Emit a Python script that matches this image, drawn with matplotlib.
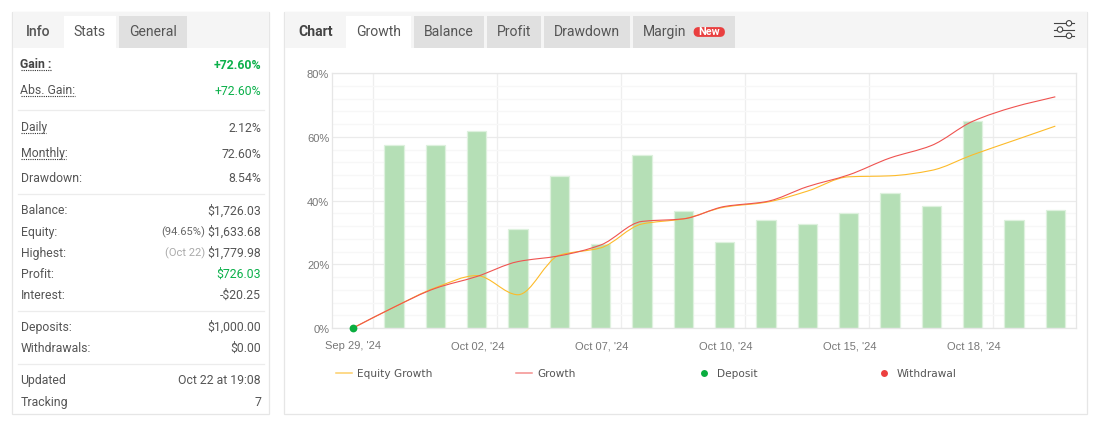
import numpy as np
import matplotlib
matplotlib.use('Agg')
import matplotlib.pyplot as plt
from matplotlib.path import Path
from matplotlib.patches import PathPatch, Rectangle, FancyBboxPatch, Circle
from matplotlib.transforms import ScaledTranslation

plt.rcParams['font.family'] = ['Roboto', 'DejaVu Sans']

# chart data
dates = ["Sep 29, '24", "Sep 30, '24", "Oct 01, '24", "Oct 02, '24", "Oct 03, '24", "Oct 04, '24",
         "Oct 07, '24", "Oct 08, '24", "Oct 09, '24", "Oct 10, '24", "Oct 11, '24", "Oct 14, '24",
         "Oct 15, '24", "Oct 16, '24", "Oct 17, '24", "Oct 18, '24", "Oct 21, '24", "Oct 22, '24"]
growth = [0, 6.6, 12.5, 16.2, 20.9, 22.7, 26.1, 33.5, 34.3, 38.2, 39.7, 44.4, 48.1, 53.4, 57.3, 64.9, 69.4, 72.6]
equity = [0, 6.6, 12.7, 16.5, 10.5, 22.9, 25.2, 32.7, 34.3, 38.0, 39.5, 43.0, 47.5, 47.8, 49.5, 54.4, 58.9, 63.4]
bars = [57.6, 57.6, 61.8, 31.2, 47.8, 26.5, 54.4, 36.8, 27.0, 33.8, 32.8, 36.0, 42.5, 38.4, 64.9, 33.8, 37.0]
y_ticks = [0, 20, 40, 60, 80]

# stats panel
label_text = ['Daily', 'Monthly:', 'Drawdown:', 'Balance:', 'Equity:', 'Highest:', 'Profit:', 'Interest:',
              'Deposits:', 'Withdrawals:', 'Updated', 'Tracking']
label_y = [127, 153, 178.5, 211, 232.5, 253.5, 274.5, 295.5, 327.5, 348.5, 380.5, 402.5]
value_text = ['2.12%', '72.60%', '8.54%', '$1,726.03', '$1,633.68', '$1,779.98', '$726.03', '-$20.25',
              '$1,000.00', '$0.00', 'Oct 22 at 19:08', '7']
value_y = [128.5, 155, 179, 211, 232.5, 253.5, 274.5, 295.5, 327.5, 348.5, 380.5, 402.5]

W, H = 1101, 424
GREEN = '#0bb04a'
TEXT = '#555555'
fig = plt.figure(figsize=(W / 100, H / 100), dpi=100)

# page layer in pixel coordinates
ui = fig.add_axes([0, 0, 1, 1])
ui.set_xlim(0, W)
ui.set_ylim(H, 0)
ui.axis('off')


def box(x0, y0, x1, y1, fc, ec='none', lw=0):
    ui.add_patch(Rectangle((x0, y0), x1 - x0, y1 - y0, fc=fc, ec=ec, lw=lw))


def tab(x, y, s, color='#555555', weight='normal', size=10.1):
    ui.text(x, y, s, ha='center', va='center', color=color, fontweight=weight, fontsize=size)


for x0, x1 in [(12, 269), (284, 1087)]:
    box(x0, 11.5, x1, 414, 'white', '#e6e6e6', 0.9)
    box(x0 + 0.5, 12, x1 - 0.5, 48, '#f5f5f5')

# left tabs
box(64, 16, 116, 48, 'white')
box(119, 16, 187, 48, '#e0e0e0')
tab(38.5, 32, 'Info', '#555555', 'medium')
tab(90, 32, 'Stats')
tab(153, 32, 'General')

# right tabs
box(346, 16, 411, 48, 'white')
for x0, x1 in [(414, 484), (487, 541), (544, 630), (633, 735)]:
    box(x0, 16, x1, 48, '#e0e0e0')
tab(316, 32, 'Chart', '#444444', 'bold')
tab(379, 32, 'Growth')
tab(449, 32, 'Balance')
tab(514, 32, 'Profit')
tab(587, 32, 'Drawdown')
tab(665, 32, 'Margin')
ui.add_patch(FancyBboxPatch((695, 28.5), 28.5, 7, boxstyle='round,pad=0,rounding_size=3.5',
                            fc='#e93f3f', ec='#e93f3f', lw=2))
ui.text(709.5, 32, 'New', ha='center', va='center', color='white', fontsize=7.8, fontweight='bold')

# settings icon
for y, cx in [(23.3, 1069), (29.5, 1060), (35.7, 1069)]:
    ui.plot([1054.3, 1074.3], [y, y], color='#444444', lw=0.8)
    ui.add_patch(Circle((cx, y), 2.7, fc='white', ec='#444444', lw=0.8, zorder=3))

# stats rows
for x1, y in [(51, 70.4), (75, 96.4), (46, 133.4), (66, 159.4)]:
    ui.plot([21, x1], [y, y], color='#333333', lw=0.8, ls=(0, (1, 1)))
ui.text(20.5, 64, 'Gain :', va='center', color='#444444', fontsize=8.8, fontweight='bold')
ui.text(20.5, 90, 'Abs. Gain:', va='center', color=TEXT, fontsize=8.8)
ui.text(261, 65.5, '+72.60%', ha='right', va='center', color=GREEN, fontsize=8.8, fontweight='bold')
ui.text(261, 91.5, '+72.60%', ha='right', va='center', color=GREEN, fontsize=8.8)
for s, y in zip(label_text, label_y):
    ui.text(20.5, y, s, va='center', color=TEXT, fontsize=8.8)
for s, y in zip(value_text, value_y):
    ui.text(261, y, s, ha='right', va='center', color=GREEN if s == '$726.03' else TEXT, fontsize=8.8)
ui.text(205.5, 232.5, '(94.65%)', ha='right', va='center', color='#666666', fontsize=8)
ui.text(205.5, 253.5, '(Oct 22)', ha='right', va='center', color='#aaaaaa', fontsize=8)
for y in [110, 194, 311, 364]:
    ui.plot([18, 264], [y, y], color='#ececec', lw=0.9)

# legend
ui.plot([336, 352], [373, 373], color='#fdcf6a', lw=1.1)
ui.plot([516, 532], [373, 373], color='#f4908e', lw=1.1)
ui.plot([704], [373], 'o', color='#0aad3f', ms=5, mew=0)
ui.plot([884], [373], 'o', color='#ec3f3f', ms=5, mew=0)
for x, s in [(357, 'Equity Growth'), (537, 'Growth'), (717, 'Deposit'), (897, 'Withdrawal')]:
    ui.text(x, 374, s, va='center', color='#555555', fontsize=7.6, family='DejaVu Sans')

# chart
L, R, T, B = 332, 1076, 73.2, 328.2
ax = fig.add_axes([L / W, 1 - B / H, (R - L) / W, (B - T) / H])
ax.patch.set_alpha(0)
ax.set_xlim(-0.5, 17.5)
ax.set_ylim(0, 80)
x = np.arange(len(dates))
ax.bar(x[1:], bars, width=0.475, color='#b5dfb6', edgecolor='#def1de', linewidth=0.9, zorder=2)


def smooth(values, color):
    # monotone cubic segments through the daily values
    v = np.asarray(values, float)
    d = np.diff(v)
    m = np.zeros(len(v))
    m[0], m[-1] = d[0], d[-1]
    same = d[:-1] * d[1:] > 0
    m[1:-1][same] = 2 * d[:-1][same] * d[1:][same] / (d[:-1][same] + d[1:][same])
    verts = [(x[0], v[0])]
    codes = [Path.MOVETO]
    for i in range(len(v) - 1):
        verts += [(x[i] + 1 / 3, v[i] + m[i] / 3), (x[i + 1] - 1 / 3, v[i + 1] - m[i + 1] / 3), (x[i + 1], v[i + 1])]
        codes += [Path.CURVE4] * 3
    ax.add_patch(PathPatch(Path(verts, codes), fill=False, ec=color, lw=0.8, zorder=3))


smooth(equity, '#fdbb2a')
smooth(growth, '#ef5350')
ax.plot(x[0], growth[0], 'o', color='#0aad3f', ms=5.6, mew=0, zorder=4, clip_on=False)

ax.set_xticks(x[::3])
ax.set_xticklabels(dates[::3])
ax.set_xticks(x[::3] + 0.5, minor=True)
ax.set_yticks(y_ticks)
ax.set_yticklabels([f'{v}%' for v in y_ticks])
ax.set_yticks(np.arange(0, 81, 4), minor=True)
ax.grid(which='minor', axis='x', color='#eeeeee', lw=0.9)
ax.grid(which='major', axis='y', color='#ebebeb', lw=0.9)
ax.grid(which='minor', axis='y', color='#f7f7f7', lw=0.9)
ax.set_axisbelow(True)
ax.tick_params(which='both', length=0)
ax.tick_params(axis='x', pad=9.5)
ax.tick_params(axis='y', pad=2.5)
for lab in ax.get_xticklabels() + ax.get_yticklabels():
    lab.set_family('Liberation Sans')
    lab.set_fontsize(8)
    lab.set_color('#777777')
# small nudges so the labels sit on the same pixels as the reference
for lab in ax.get_yticklabels():
    lab.set_transform(lab.get_transform() + ScaledTranslation(0.5 / 72, -0.7 / 72, fig.dpi_scale_trans))
for lab in ax.get_xticklabels():
    lab.set_transform(lab.get_transform() + ScaledTranslation(0.5 / 72, 0, fig.dpi_scale_trans))
for sp in ax.spines.values():
    sp.set_color('#e6e6e6')
    sp.set_linewidth(0.9)

fig.savefig('out.png', dpi=100)
